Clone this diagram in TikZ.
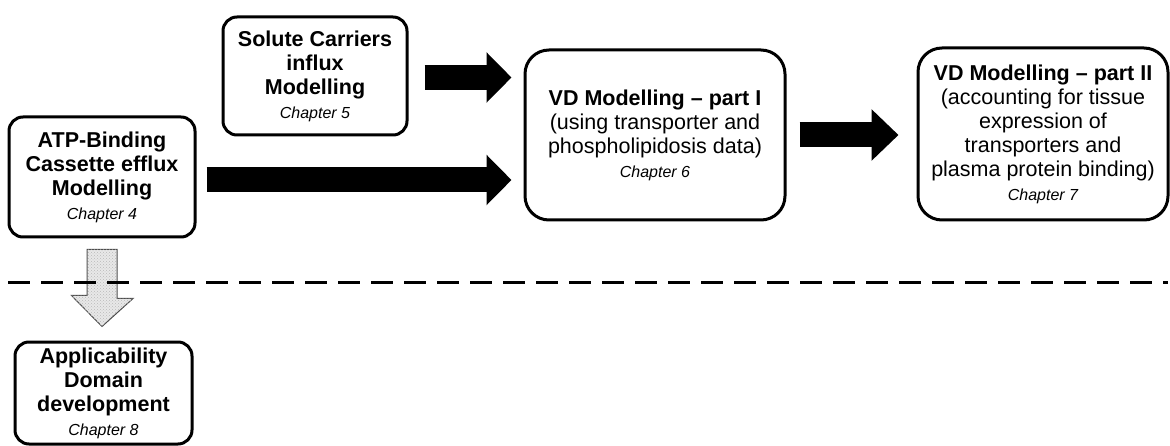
\documentclass[tikz,border=0pt]{standalone}
\usepackage{fontspec}
\setmainfont{Liberation Sans}
\usetikzlibrary{arrows.meta,calc,patterns}
\newcommand\chap[1]{{\itshape\fontsize{16}{19}\selectfont #1}}
\tikzset{
  box/.style={draw, line width=3pt, rounded corners=14pt, align=center,
    inner sep=0pt, font=\fontsize{21.5}{24}\selectfont},
  bigbox/.style={box, rounded corners=24pt},
  bigarrow/.style={line width=25pt, -{Triangle[length=25pt,width=49pt]}},
  grayarrow/.style={draw=black!70, line width=1pt, fill=gray!18,
    postaction={pattern=crosshatch dots, pattern color=gray!55}},
  dashline/.style={line width=3pt, dash pattern=on 22pt off 11pt}
}
\begin{document}
\begin{tikzpicture}[x=1pt,y=-1pt]
\useasboundingbox (0,0) rectangle (1170,446);
\node[box, minimum width=186pt, minimum height=120pt] (atp) at (102,177)
  {\textbf{ATP-Binding}\\\textbf{Cassette efflux}\\\textbf{Modelling}\\\chap{Chapter 4}};
\node[box, minimum width=184pt, minimum height=118pt] (sol) at (315,76)
  {\textbf{Solute Carriers}\\\textbf{influx}\\\textbf{Modelling}\\\chap{Chapter 5}};
\node[bigbox, minimum width=260pt, minimum height=170pt] (vd1) at (655,135)
  {\textbf{VD Modelling -- part I}\\(using transporter and\\phospholipidosis data)\\\chap{Chapter 6}};
\node[bigbox, minimum width=250pt, minimum height=172pt] (vd2) at (1043,134)
  {\textbf{VD Modelling -- part II}\\(accounting for tissue\\expression of\\transporters and\\plasma protein binding)\\\chap{Chapter 7}};
\node[box, minimum width=177pt, minimum height=102pt] (appl) at (103.5,393)
  {\textbf{Applicability}\\\textbf{Domain}\\\textbf{development}\\\chap{Chapter 8}};
% block arrows
\draw[bigarrow] ([xshift=16pt,yshift=-1.5pt]sol.east) -- ([xshift=-12pt,yshift=-1.5pt]sol.east -| vd1.west);
\draw[bigarrow] ([xshift=10pt,yshift=-3pt]atp.east) -- ([xshift=-12pt,yshift=-3pt]atp.east -| vd1.west);
\draw[line width=25pt, -{Triangle[length=27pt,width=50pt]}] ([xshift=13pt]vd1.east) -- ([xshift=-18pt]vd1.east -| vd2.west);
% gray arrow
\coordinate (gtip) at ($(atp.south |- appl.north)+(0,-14)$);
\draw[grayarrow] ($(atp.south)+(-15,11)$) -- ++(30,0) -- ++(0,49) -- ++(16,0)
  -- (gtip) -- ++(-30.5,-31) -- ++(15.5,0) -- cycle;
% dashed separator
\coordinate (dl) at (8,283);
\coordinate (dr) at (1168,283);
\draw[dashline] (dl) -- (dr);
\end{tikzpicture}
\end{document}
